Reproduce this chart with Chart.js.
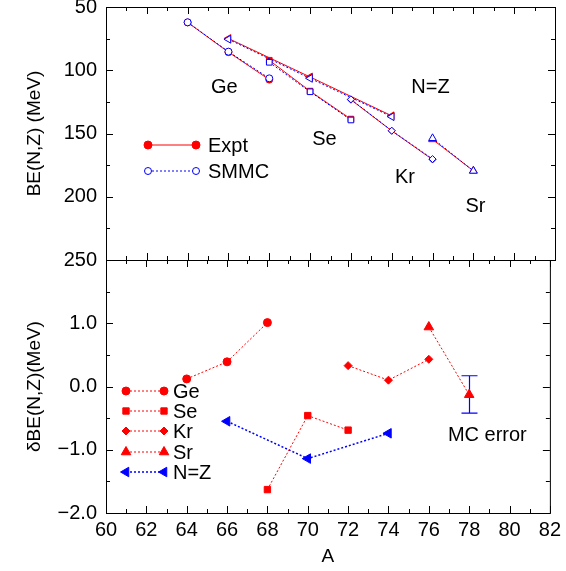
<!DOCTYPE html>
<html>
<head>
<meta charset="utf-8">
<script src="https://cdn.jsdelivr.net/npm/chart.js@4/dist/chart.umd.min.js"></script>
<style>
  html, body { margin: 0; padding: 0; background: #fff; }
  #wrap { position: relative; width: 566px; height: 571px; }
  canvas { position: absolute; left: 0; top: 0; }
</style>
</head>
<body>
<div id="wrap">
  <canvas id="bottomChart" width="566" height="571"></canvas>
  <canvas id="topChart" width="566" height="571"></canvas>
</div>
<script>
// mass numbers per chain
const geA = [64, 66, 68];
const seA = [68, 70, 72];
const krA = [72, 74, 76];
const srA = [76, 78];
const nzA = [66, 70, 74];

// BE(N,Z) in MeV, experiment
const geExpt = [62.2, 85.7, 107.4];
const seExpt = [92.1, 116.5, 138.6];
const krExpt = [123.3, 147.9, 170.6];
const srExpt = [154.7, 179.5];
const nzExpt = [74.9, 105.3, 136.0];

// BE(N,Z) in MeV, SMMC
const geSMMC = [62.1, 85.3, 106.4];
const seSMMC = [93.7, 117.0, 139.3];
const krSMMC = [123.0, 147.8, 170.2];
const srSMMC = [153.8, 179.6];
const nzSMMC = [75.5, 106.4, 136.7];

// deltaBE(N,Z) in MeV
const geDelta = [0.12, 0.39, 1.01];
const seDelta = [-1.63, -0.46, -0.69];
const krDelta = [0.33, 0.10, 0.43];
const srDelta = [0.94, -0.13];
const nzDelta = [-0.55, -1.14, -0.74];

// MC error bar
const mcErrA = 78;
const mcErrLow = -0.42;
const mcErrHigh = 0.17;

// chain labels in the upper panel
const chainNames = ['Ge', 'Se', 'Kr', 'Sr', 'N=Z'];
const chainLabelA = [65.8, 70.7, 74.65, 78.1, 75.9];
const chainLabelBE = [114, 155, 184.5, 208, 114];

const FONT = '"Liberation Sans", Arial, Helvetica, sans-serif';
Chart.defaults.font.family = FONT;
Chart.defaults.color = '#000';

const RED = '#ff0000';
const BLUE = '#0000ff';

function pts(xs, ys) {
  return xs.map((a, i) => ({ x: a, y: ys[i] }));
}

function exptSet(xs, ys, style, radius, rotation) {
  return {
    data: pts(xs, ys),
    borderColor: RED, backgroundColor: RED, borderWidth: 1,
    pointStyle: style, pointRadius: radius, pointRotation: rotation || 0,
    pointBackgroundColor: RED, pointBorderColor: RED, pointBorderWidth: 1
  };
}

function smmcSet(xs, ys, style, radius, rotation) {
  return {
    data: pts(xs, ys),
    borderColor: BLUE, borderWidth: 1, borderDash: [2, 2],
    pointStyle: style, pointRadius: radius, pointRotation: rotation || 0,
    pointBackgroundColor: '#fff', pointBorderColor: BLUE, pointBorderWidth: 1
  };
}

function deltaSet(xs, ys, color, style, radius, rotation) {
  return {
    data: pts(xs, ys),
    borderColor: color, borderWidth: color === BLUE ? 1.5 : 1, borderDash: [2, 2],
    pointStyle: style, pointRadius: radius, pointRotation: rotation || 0,
    pointBackgroundColor: color, pointBorderColor: color, pointBorderWidth: 1
  };
}

// keep the plot box where it is, labels may hang outside
function fixY(s) {
  s.width = 106;
  s.paddingTop = 0;
  s.paddingBottom = 0;
}

// box around the panel with inward ticks on all four sides
const frame = {
  id: 'frame',
  afterDraw(chart, args, opts) {
    const { ctx, chartArea: a, scales } = chart;
    const x = scales.x, y = scales.y;
    ctx.save();
    ctx.strokeStyle = '#000';
    ctx.lineWidth = 1;
    ctx.strokeRect(a.left + 0.5, a.top + 0.5, a.right - a.left, a.bottom - a.top);
    ctx.beginPath();
    for (let v = 60; v <= 82; v++) {
      const px = Math.round(x.getPixelForValue(v)) + 0.5;
      const len = v % 2 === 0 ? 7 : 4;
      ctx.moveTo(px, a.top); ctx.lineTo(px, a.top + len);
      ctx.moveTo(px, a.bottom); ctx.lineTo(px, a.bottom - len);
    }
    for (let v = opts.min; v <= opts.max + 1e-9; v += opts.step) {
      const py = Math.round(y.getPixelForValue(v)) + 0.5;
      const major = Math.abs(v / opts.major - Math.round(v / opts.major)) < 1e-6;
      const len = major ? 7 : 4;
      ctx.moveTo(a.left, py); ctx.lineTo(a.left + len, py);
      ctx.moveTo(a.right, py); ctx.lineTo(a.right - len, py);
    }
    ctx.stroke();
    ctx.restore();
  }
};

// free text, the error bar and hand made legends
const notes = {
  id: 'notes',
  beforeDatasetsDraw(chart, args, opts) {
    if (!opts.errorBar) return;
    const { ctx, scales: { x, y } } = chart;
    const px = Math.round(x.getPixelForValue(mcErrA)) + 0.5;
    const y1 = y.getPixelForValue(mcErrHigh), y2 = y.getPixelForValue(mcErrLow);
    ctx.save();
    ctx.strokeStyle = BLUE;
    ctx.lineWidth = 1.2;
    ctx.beginPath();
    ctx.moveTo(px, y1); ctx.lineTo(px, y2);
    ctx.moveTo(px - 8, y1); ctx.lineTo(px + 8, y1);
    ctx.moveTo(px - 8, y2); ctx.lineTo(px + 8, y2);
    ctx.stroke();
    ctx.restore();
  },
  afterDatasetsDraw(chart, args, opts) {
    const { ctx, scales: { x, y } } = chart;
    ctx.save();
    ctx.fillStyle = '#000';
    ctx.font = '20px ' + FONT;
    ctx.textAlign = 'center';
    ctx.textBaseline = 'middle';
    (opts.labels || []).forEach(l => {
      ctx.fillText(l.text, x.getPixelForValue(l.a), y.getPixelForValue(l.v));
    });
    (opts.legend || []).forEach(k => {
      ctx.save();
      ctx.strokeStyle = k.color;
      ctx.lineWidth = k.width || 1;
      ctx.setLineDash(k.dash || []);
      ctx.beginPath();
      ctx.moveTo(k.x1, k.y); ctx.lineTo(k.x2, k.y);
      ctx.stroke();
      ctx.setLineDash([]);
      ctx.fillStyle = k.fill;
      ctx.strokeStyle = k.color;
      ctx.lineWidth = 1;
      const p = { pointStyle: k.style, radius: k.radius, rotation: k.rotation || 0, borderWidth: 1 };
      Chart.helpers.drawPoint(ctx, p, k.x1, k.y);
      Chart.helpers.drawPoint(ctx, p, k.x2, k.y);
      ctx.fillStyle = '#000';
      ctx.textAlign = 'left';
      ctx.fillText(k.text, k.tx, k.y + 1);
      ctx.restore();
    });
    ctx.restore();
  }
};

const titleFont = { size: 19, family: FONT };
const tickFont = { size: 20, family: FONT };

new Chart(document.getElementById('topChart'), {
  type: 'line',
  data: {
    datasets: [
      smmcSet(geA, geSMMC, 'circle', 3.5),
      smmcSet(seA, seSMMC, 'rect', 4),
      smmcSet(krA, krSMMC, 'rectRot', 3.5),
      smmcSet(srA, srSMMC, 'triangle', 4.5),
      smmcSet(nzA, nzSMMC, 'triangle', 4.5, -90),
      exptSet(geA, geExpt, 'circle', 3.5),
      exptSet(seA, seExpt, 'rect', 4),
      exptSet(krA, krExpt, 'rectRot', 3.5),
      exptSet(srA, srExpt, 'triangle', 4.5),
      exptSet(nzA, nzExpt, 'triangle', 4.5, -90)
    ]
  },
  options: {
    responsive: false,
    animation: false,
    layout: { padding: { top: 7, right: 11, bottom: 311, left: 0 } },
    plugins: {
      legend: { display: false },
      tooltip: { enabled: false },
      frame: { min: 50, max: 250, step: 25, major: 50 },
      notes: {
        labels: chainNames.map((t, i) => ({ text: t, a: chainLabelA[i], v: chainLabelBE[i] })),
        legend: [
          { text: 'Expt', x1: 148, x2: 196, y: 145, tx: 208, color: RED, fill: RED, style: 'circle', radius: 4 },
          { text: 'SMMC', x1: 148, x2: 196, y: 171, tx: 208, color: BLUE, fill: '#fff', style: 'circle', radius: 3.5, dash: [2, 2] }
        ]
      }
    },
    scales: {
      x: { type: 'linear', min: 60, max: 82, display: false },
      y: {
        type: 'linear', min: 50, max: 250, reverse: true,
        afterFit: fixY,
        grid: { display: false, drawTicks: false },
        border: { display: false },
        ticks: { stepSize: 25, padding: 9, color: '#000', font: tickFont, autoSkip: false,
                 callback: v => (v % 50 === 0 ? String(v) : '') },
        title: { display: true, text: 'BE(N,Z) (MeV)', color: '#000', font: titleFont, padding: { top: 23, bottom: 0 } }
      }
    }
  },
  plugins: [frame, notes]
});

new Chart(document.getElementById('bottomChart'), {
  type: 'line',
  data: {
    datasets: [
      deltaSet(geA, geDelta, RED, 'circle', 4),
      deltaSet(seA, seDelta, RED, 'rect', 4.5),
      deltaSet(krA, krDelta, RED, 'rectRot', 4),
      deltaSet(srA, srDelta, RED, 'triangle', 5.5),
      deltaSet(nzA, nzDelta, BLUE, 'triangle', 5.5, -90)
    ]
  },
  options: {
    responsive: false,
    animation: false,
    layout: { padding: { top: 260, right: 11, bottom: 0, left: 0 } },
    plugins: {
      legend: { display: false },
      tooltip: { enabled: false },
      frame: { min: -2, max: 2, step: 0.5, major: 1 },
      notes: {
        errorBar: true,
        labels: [{ text: 'MC error', a: 78.9, v: -0.77 }],
        legend: [
          { text: 'Ge', x1: 126, x2: 164, y: 391, tx: 173, color: RED, fill: RED, style: 'circle', radius: 4, dash: [2, 2] },
          { text: 'Se', x1: 126, x2: 164, y: 411, tx: 173, color: RED, fill: RED, style: 'rect', radius: 4.5, dash: [2, 2] },
          { text: 'Kr', x1: 126, x2: 164, y: 431, tx: 173, color: RED, fill: RED, style: 'rectRot', radius: 4, dash: [2, 2] },
          { text: 'Sr', x1: 126, x2: 164, y: 452, tx: 173, color: RED, fill: RED, style: 'triangle', radius: 5.5, dash: [2, 2] },
          { text: 'N=Z', x1: 126, x2: 164, y: 472, tx: 173, color: BLUE, fill: BLUE, style: 'triangle', radius: 5.5, rotation: -90, dash: [2, 2], width: 1.5 }
        ]
      }
    },
    scales: {
      x: {
        type: 'linear', min: 60, max: 82,
        afterFit: s => { s.height = 58; },
        grid: { display: false, drawTicks: false },
        border: { display: false },
        ticks: { stepSize: 2, padding: 5, color: '#000', font: tickFont, maxRotation: 0, autoSkip: false },
        title: { display: true, text: 'A', color: '#000', font: titleFont, padding: { top: 0, bottom: 3 } }
      },
      y: {
        type: 'linear', min: -2, max: 2,
        afterFit: fixY,
        grid: { display: false, drawTicks: false },
        border: { display: false },
        ticks: { stepSize: 0.5, padding: 9, color: '#000', font: tickFont, autoSkip: false,
                 callback: v => {
                   if (Math.abs(v - Math.round(v)) > 1e-6 || v >= 2) return '';
                   return (v < 0 ? '\u2212' : '') + Math.abs(v).toFixed(1);
                 } },
        title: { display: true, text: '\u03b4BE(N,Z)(MeV)', color: '#000', font: titleFont, padding: { top: 23, bottom: 0 } }
      }
    }
  },
  plugins: [frame, notes]
});
</script>
</body>
</html>
